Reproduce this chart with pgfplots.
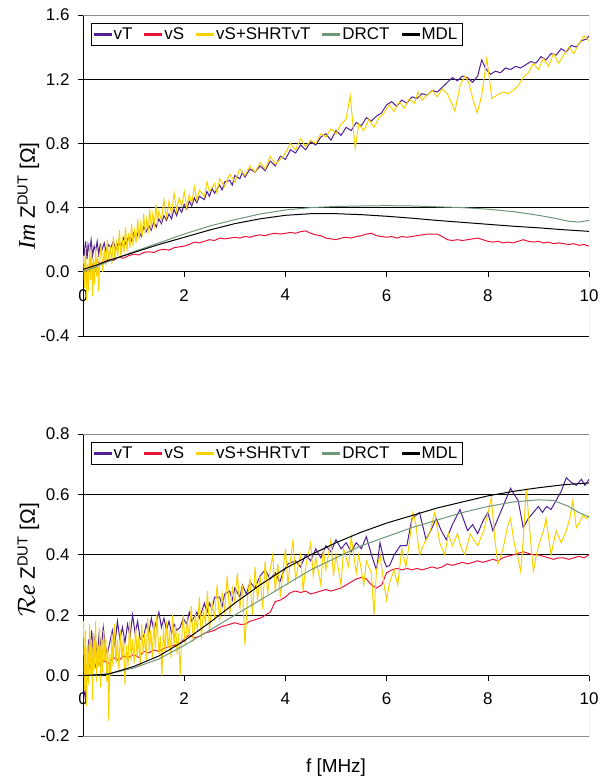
\documentclass[border=0pt]{standalone}
\usepackage{fontspec}
\setmainfont{Liberation Sans}
\newfontfamily\timesfont{Liberation Serif}
\usepackage{pgfplots}
\pgfplotsset{compat=1.18}
\definecolor{cvT}{RGB}{80,30,150}
\definecolor{cvS}{RGB}{232,20,60}
\definecolor{cvSS}{RGB}{250,210,0}
\definecolor{cDR}{RGB}{110,150,120}
\definecolor{cMD}{RGB}{0,0,0}
\definecolor{frm}{RGB}{140,140,140}
\pgfplotsset{
 myax/.style={
   scale only axis, width=506bp,
   xmin=0, xmax=10, xtick={0,2,4,6,8,10},
   axis x line*=middle, axis y line*=left,
   hide obscured x ticks=false,
   ymajorgrids, grid style={black, line width=0.6bp},
   tick align=outside, major tick length=5bp,
   tick style={black, line width=0.6bp},
   axis line style={black, line width=0.8bp},
   /pgf/number format/assume math mode=true,
   ticklabel style={font=\fontsize{17}{17}\selectfont},
   xticklabel style={yshift=-9bp},
   yticklabel style={xshift=-5bp, /pgf/number format/.cd, fixed, fixed zerofill, precision=1},
   legend columns=-1,
   legend style={at={(0,1)}, anchor=north west, xshift=8bp, yshift=-8bp, draw=black, fill=white,
     font=\fontsize{17}{17}\selectfont, inner sep=2.5bp,
     /tikz/every even column/.append style={column sep=10bp}},
   every axis plot/.append style={line width=1bp},
 }
}
\newcommand\legentries{%
\addlegendimage{legend image code/.code={\fill[cvT] (0bp,-0.7bp) rectangle (17bp,0.7bp);}}\addlegendentry{vT}
\addlegendimage{legend image code/.code={\fill[cvS] (0bp,-0.7bp) rectangle (17bp,0.7bp);}}\addlegendentry{vS}
\addlegendimage{legend image code/.code={\fill[cvSS] (0bp,-0.7bp) rectangle (17bp,0.7bp);}}\addlegendentry{vS+SHRTvT}
\addlegendimage{legend image code/.code={\fill[cDR] (0bp,-0.7bp) rectangle (17bp,0.7bp);}}\addlegendentry{DRCT}
\addlegendimage{legend image code/.code={\fill[cMD] (0bp,-0.7bp) rectangle (17bp,0.7bp);}}\addlegendentry{MDL}}
\begin{document}
\begin{tikzpicture}
\useasboundingbox (0,0) rectangle (606bp,781bp);
% ---------------- Top: Im ----------------
\begin{scope}
\begin{axis}[myax, at={(83bp,445bp)}, anchor=south west, height=321bp,
  ymin=-0.4, ymax=1.6, ytick={-0.4,0,0.4,0.8,1.2,1.6},
  ylabel style={at={([xshift=-48bp]axis description cs:0,0.268)}, anchor=base west, inner sep=0pt, font=\fontsize{21}{21}\selectfont},
  ylabel={{\timesfont\itshape\fontsize{24}{24}\selectfont Im} Z\textsuperscript{DUT} [Ω]}]
\legentries
\addplot[cvT, forget plot] coordinates {(0.02,0.10)(0.05,0.19)(0.08,0.08)(0.10,0.17)(0.13,0.12)(0.16,0.20)(0.19,0.10)(0.22,0.16)(0.25,0.13)(0.28,0.19)(0.31,0.11)(0.34,0.17)(0.38,0.14)(0.42,0.18)(0.46,0.12)(0.50,0.17)(0.55,0.15)(0.60,0.19)(0.65,0.14)(0.70,0.18)(0.75,0.16)(0.80,0.21)(0.85,0.17)(0.90,0.22)(0.95,0.19)(1.00,0.24)(1.05,0.20)(1.10,0.26)(1.15,0.22)(1.20,0.28)(1.25,0.25)(1.30,0.29)(1.35,0.26)(1.40,0.31)(1.45,0.28)(1.50,0.33)(1.55,0.30)(1.60,0.35)(1.65,0.32)(1.70,0.36)(1.75,0.33)(1.80,0.39)(1.85,0.35)(1.90,0.40)(1.95,0.37)(2.00,0.42)(2.05,0.39)(2.10,0.44)(2.15,0.41)(2.20,0.46)(2.25,0.43)(2.30,0.47)(2.40,0.45)(2.45,0.50)(2.50,0.47)(2.55,0.52)(2.60,0.49)(2.70,0.54)(2.75,0.51)(2.80,0.56)(2.90,0.57)(2.95,0.54)(3.00,0.60)(3.10,0.58)(3.15,0.62)(3.20,0.59)(3.30,0.64)(3.40,0.62)(3.50,0.66)(3.60,0.63)(3.70,0.69)(3.80,0.66)(3.90,0.72)(4.00,0.70)(4.10,0.76)(4.20,0.74)(4.30,0.79)(4.40,0.76)(4.50,0.81)(4.60,0.79)(4.70,0.84)(4.80,0.86)(4.90,0.82)(5.00,0.88)(5.10,0.85)(5.20,0.90)(5.30,0.88)(5.40,0.93)(5.50,0.91)(5.60,0.96)(5.70,0.94)(5.80,0.97)(5.90,0.99)(6.00,1.04)(6.10,1.06)(6.20,1.03)(6.30,1.07)(6.40,1.05)(6.50,1.09)(6.60,1.08)(6.70,1.11)(6.80,1.10)(6.90,1.13)(7.00,1.12)(7.10,1.15)(7.20,1.18)(7.30,1.21)(7.40,1.19)(7.50,1.22)(7.60,1.21)(7.70,1.18)(7.80,1.22)(7.88,1.32)(7.95,1.27)(8.05,1.23)(8.15,1.25)(8.25,1.24)(8.35,1.27)(8.45,1.26)(8.55,1.28)(8.65,1.27)(8.75,1.29)(8.85,1.31)(8.95,1.30)(9.05,1.34)(9.15,1.32)(9.25,1.36)(9.35,1.35)(9.45,1.39)(9.55,1.37)(9.65,1.41)(9.75,1.40)(9.85,1.44)(9.95,1.45)(10.0,1.47)};
\addplot[cvS, forget plot] coordinates {(0.05,0.00)(0.10,0.03)(0.15,0.02)(0.20,0.05)(0.25,0.04)(0.30,0.06)(0.35,0.05)(0.40,0.07)(0.45,0.06)(0.50,0.08)(0.60,0.07)(0.70,0.09)(0.80,0.085)(0.90,0.10)(1.00,0.11)(1.10,0.105)(1.20,0.12)(1.30,0.125)(1.40,0.12)(1.50,0.135)(1.60,0.14)(1.70,0.135)(1.80,0.15)(1.90,0.155)(2.00,0.16)(2.10,0.17)(2.20,0.185)(2.30,0.18)(2.40,0.19)(2.50,0.20)(2.60,0.195)(2.70,0.21)(2.80,0.205)(2.90,0.21)(3.00,0.215)(3.10,0.21)(3.20,0.22)(3.30,0.215)(3.40,0.225)(3.50,0.23)(3.60,0.225)(3.70,0.235)(3.80,0.24)(3.90,0.235)(4.00,0.24)(4.10,0.245)(4.20,0.24)(4.30,0.25)(4.40,0.255)(4.50,0.24)(4.60,0.23)(4.70,0.225)(4.80,0.21)(4.90,0.205)(5.00,0.20)(5.10,0.21)(5.20,0.215)(5.30,0.21)(5.40,0.22)(5.50,0.225)(5.60,0.235)(5.70,0.24)(5.80,0.225)(5.90,0.22)(6.00,0.215)(6.10,0.22)(6.20,0.21)(6.30,0.22)(6.40,0.215)(6.50,0.22)(6.60,0.225)(6.70,0.23)(6.80,0.235)(6.90,0.235)(7.00,0.235)(7.10,0.22)(7.20,0.20)(7.30,0.195)(7.40,0.20)(7.50,0.195)(7.60,0.20)(7.70,0.205)(7.80,0.21)(7.90,0.20)(8.00,0.19)(8.10,0.185)(8.20,0.19)(8.30,0.18)(8.40,0.185)(8.50,0.18)(8.60,0.19)(8.70,0.20)(8.80,0.19)(8.90,0.185)(9.00,0.19)(9.10,0.18)(9.20,0.185)(9.30,0.175)(9.40,0.18)(9.50,0.175)(9.60,0.17)(9.70,0.175)(9.80,0.165)(9.90,0.17)(10.0,0.16)};
\addplot[cvSS, forget plot] coordinates {(0.01,0.10)(0.03,-0.10)(0.05,0.15)(0.07,-0.18)(0.09,0.05)(0.11,-0.12)(0.13,0.18)(0.15,-0.05)(0.17,0.12)(0.19,-0.15)(0.21,0.08)(0.23,-0.08)(0.25,0.15)(0.27,-0.03)(0.29,0.10)(0.31,-0.12)(0.33,0.06)(0.36,0.18)(0.39,0.00)(0.42,0.14)(0.45,0.04)(0.48,0.20)(0.51,0.06)(0.54,0.16)(0.57,0.05)(0.60,0.22)(0.63,0.08)(0.66,0.18)(0.69,0.10)(0.72,0.26)(0.75,0.09)(0.78,0.20)(0.81,0.12)(0.84,0.28)(0.87,0.13)(0.90,0.24)(0.93,0.15)(0.96,0.30)(0.99,0.16)(1.02,0.27)(1.05,0.18)(1.08,0.33)(1.11,0.20)(1.14,0.30)(1.17,0.22)(1.20,0.36)(1.23,0.24)(1.26,0.33)(1.29,0.26)(1.32,0.39)(1.35,0.27)(1.38,0.36)(1.41,0.29)(1.44,0.42)(1.47,0.31)(1.50,0.38)(1.55,0.32)(1.60,0.45)(1.65,0.34)(1.70,0.44)(1.75,0.36)(1.80,0.49)(1.85,0.38)(1.90,0.46)(1.95,0.41)(2.00,0.50)(2.05,0.40)(2.10,0.48)(2.15,0.43)(2.20,0.53)(2.25,0.45)(2.30,0.51)(2.40,0.47)(2.45,0.56)(2.50,0.50)(2.60,0.55)(2.65,0.49)(2.70,0.58)(2.80,0.53)(2.90,0.61)(3.00,0.56)(3.10,0.64)(3.20,0.60)(3.30,0.66)(3.40,0.62)(3.50,0.68)(3.60,0.64)(3.70,0.72)(3.80,0.67)(3.90,0.70)(4.00,0.74)(4.10,0.80)(4.20,0.76)(4.30,0.83)(4.40,0.78)(4.50,0.82)(4.60,0.80)(4.70,0.86)(4.80,0.84)(4.90,0.89)(5.00,0.86)(5.10,0.92)(5.20,0.95)(5.28,1.10)(5.38,0.77)(5.45,0.92)(5.55,0.88)(5.65,0.95)(5.75,0.90)(5.85,0.96)(5.95,0.99)(6.05,1.04)(6.15,1.00)(6.25,1.06)(6.35,1.02)(6.45,1.08)(6.55,1.05)(6.62,1.12)(6.70,1.07)(6.80,1.10)(6.90,1.13)(7.00,1.09)(7.10,1.14)(7.20,1.11)(7.30,1.04)(7.35,1.00)(7.45,1.16)(7.55,1.22)(7.62,1.18)(7.72,1.06)(7.79,0.99)(7.88,1.10)(7.98,1.33)(8.08,1.08)(8.18,1.10)(8.30,1.12)(8.40,1.11)(8.50,1.13)(8.60,1.16)(8.70,1.21)(8.80,1.24)(8.90,1.30)(9.00,1.26)(9.10,1.33)(9.20,1.28)(9.30,1.36)(9.40,1.30)(9.50,1.35)(9.60,1.40)(9.70,1.36)(9.80,1.42)(9.90,1.47)(10.0,1.44)};
\addplot[cDR, forget plot] coordinates {(0.0,0.0)(0.25,0.03)(0.5,0.065)(0.75,0.095)(1.0,0.125)(1.5,0.18)(2.0,0.235)(2.5,0.285)(3.0,0.325)(3.5,0.36)(4.0,0.385)(4.5,0.40)(5.0,0.407)(5.5,0.41)(6.0,0.412)(6.5,0.41)(7.0,0.405)(7.5,0.40)(8.0,0.39)(8.5,0.375)(9.0,0.352)(9.3,0.335)(9.6,0.315)(9.8,0.31)(10.0,0.32)};
\addplot[cMD, forget plot] coordinates {(0.0,0.015)(0.25,0.04)(0.5,0.07)(0.75,0.095)(1.0,0.12)(1.5,0.17)(2.0,0.215)(2.5,0.26)(3.0,0.30)(3.5,0.33)(4.0,0.352)(4.5,0.362)(5.0,0.362)(5.5,0.356)(6.0,0.346)(6.5,0.334)(7.0,0.32)(7.5,0.308)(8.0,0.296)(8.5,0.284)(9.0,0.274)(9.5,0.262)(10.0,0.252)};
\draw[frm, line width=0.8bp] (rel axis cs:0,0) -- (rel axis cs:1,0) -- (rel axis cs:1,1) -- (rel axis cs:0,1);
\end{axis}
\end{scope}
% ---------------- Bottom: Re ----------------
\begin{scope}
\begin{axis}[myax, at={(83bp,45bp)}, anchor=south west, height=302bp,
  ymin=-0.2, ymax=0.8, ytick={-0.2,0,0.2,0.4,0.6,0.8},
  ylabel style={at={([xshift=-48bp]axis description cs:0,0.394)}, anchor=base west, inner sep=0pt, font=\fontsize{21}{21}\selectfont},
  ylabel={{\fontsize{24}{24}\selectfont$\mathcal{R}${\timesfont\itshape e}} Z\textsuperscript{DUT} [Ω]}]
\legentries
\addplot[cvT, forget plot] coordinates {(0.02,-0.05)(0.05,-0.08)(0.08,0.02)(0.11,0.12)(0.14,0.05)(0.17,0.15)(0.20,0.08)(0.24,0.13)(0.28,0.06)(0.32,0.14)(0.36,0.09)(0.40,0.16)(0.44,0.10)(0.48,0.07)(0.53,0.11)(0.58,0.15)(0.63,0.10)(0.68,0.18)(0.73,0.12)(0.78,0.16)(0.83,0.11)(0.88,0.17)(0.93,0.13)(0.98,0.20)(1.03,0.14)(1.08,0.18)(1.13,0.12)(1.20,0.13)(1.25,0.17)(1.30,0.14)(1.35,0.19)(1.40,0.15)(1.45,0.18)(1.50,0.21)(1.55,0.16)(1.60,0.19)(1.65,0.15)(1.70,0.18)(1.75,0.14)(1.80,0.17)(1.85,0.15)(1.92,0.16)(1.98,0.19)(2.05,0.17)(2.10,0.21)(2.15,0.18)(2.25,0.21)(2.30,0.19)(2.40,0.24)(2.45,0.21)(2.50,0.24)(2.55,0.22)(2.60,0.26)(2.70,0.26)(2.75,0.23)(2.80,0.27)(2.90,0.28)(2.95,0.25)(3.00,0.29)(3.10,0.26)(3.15,0.30)(3.23,0.27)(3.30,0.31)(3.40,0.29)(3.50,0.33)(3.60,0.35)(3.70,0.32)(3.80,0.34)(3.89,0.31)(3.95,0.34)(4.05,0.37)(4.20,0.38)(4.30,0.36)(4.40,0.40)(4.50,0.38)(4.60,0.42)(4.70,0.39)(4.80,0.43)(4.90,0.41)(5.00,0.45)(5.10,0.42)(5.20,0.44)(5.30,0.41)(5.40,0.44)(5.50,0.42)(5.60,0.46)(5.70,0.40)(5.80,0.35)(5.87,0.44)(5.95,0.38)(6.00,0.36)(6.06,0.365)(6.15,0.40)(6.27,0.43)(6.40,0.43)(6.50,0.52)(6.65,0.54)(6.78,0.45)(6.90,0.49)(6.98,0.52)(7.08,0.48)(7.18,0.45)(7.30,0.50)(7.45,0.55)(7.60,0.48)(7.70,0.50)(7.80,0.47)(7.90,0.51)(8.00,0.54)(8.10,0.48)(8.20,0.52)(8.30,0.56)(8.45,0.62)(8.52,0.60)(8.60,0.58)(8.70,0.49)(8.80,0.52)(8.90,0.54)(9.00,0.56)(9.08,0.54)(9.16,0.56)(9.25,0.55)(9.35,0.58)(9.45,0.61)(9.55,0.655)(9.65,0.64)(9.75,0.63)(9.85,0.65)(9.92,0.63)(10.0,0.65)};
\addplot[cvS, forget plot] coordinates {(0.05,0.00)(0.10,0.05)(0.15,0.02)(0.20,0.06)(0.25,0.03)(0.30,0.05)(0.35,0.03)(0.40,0.05)(0.50,0.04)(0.60,0.06)(0.70,0.05)(0.80,0.065)(0.90,0.06)(1.00,0.07)(1.10,0.06)(1.20,0.08)(1.30,0.075)(1.40,0.085)(1.50,0.08)(1.60,0.09)(1.70,0.095)(1.80,0.10)(1.90,0.105)(2.00,0.12)(2.10,0.135)(2.20,0.125)(2.30,0.13)(2.40,0.14)(2.50,0.145)(2.60,0.15)(2.70,0.16)(2.80,0.165)(2.90,0.17)(3.00,0.175)(3.10,0.17)(3.20,0.17)(3.30,0.18)(3.40,0.185)(3.50,0.19)(3.60,0.20)(3.70,0.21)(3.80,0.245)(3.90,0.25)(4.00,0.26)(4.10,0.275)(4.20,0.28)(4.30,0.275)(4.40,0.28)(4.50,0.27)(4.60,0.275)(4.70,0.28)(4.80,0.285)(4.90,0.28)(5.00,0.285)(5.10,0.29)(5.20,0.30)(5.30,0.31)(5.40,0.32)(5.50,0.325)(5.60,0.32)(5.70,0.30)(5.80,0.29)(5.90,0.30)(6.00,0.34)(6.10,0.35)(6.20,0.355)(6.30,0.35)(6.40,0.355)(6.50,0.35)(6.60,0.355)(6.70,0.35)(6.80,0.355)(6.90,0.36)(7.00,0.355)(7.10,0.36)(7.20,0.37)(7.30,0.365)(7.40,0.37)(7.50,0.375)(7.60,0.37)(7.70,0.375)(7.80,0.38)(7.90,0.375)(8.00,0.38)(8.10,0.385)(8.20,0.38)(8.30,0.39)(8.40,0.395)(8.50,0.40)(8.60,0.405)(8.70,0.41)(8.80,0.405)(8.90,0.40)(9.00,0.40)(9.10,0.395)(9.20,0.39)(9.30,0.385)(9.40,0.39)(9.50,0.39)(9.60,0.385)(9.70,0.39)(9.80,0.395)(9.90,0.39)(10.0,0.40)};
\addplot[cvSS, forget plot] coordinates {(0.01,0.18)(0.03,-0.05)(0.05,0.15)(0.07,-0.10)(0.09,0.10)(0.11,-0.03)(0.13,0.17)(0.15,0.00)(0.17,0.12)(0.19,-0.08)(0.21,0.14)(0.23,0.02)(0.25,0.18)(0.27,-0.02)(0.29,0.10)(0.31,0.03)(0.33,0.16)(0.35,-0.04)(0.37,0.12)(0.39,0.01)(0.41,0.15)(0.43,0.05)(0.45,0.12)(0.47,-0.02)(0.49,0.09)(0.51,-0.15)(0.53,0.07)(0.55,0.00)(0.57,0.14)(0.59,0.03)(0.62,0.17)(0.65,0.04)(0.68,0.12)(0.71,0.02)(0.74,0.15)(0.77,0.05)(0.80,0.13)(0.83,-0.03)(0.86,0.10)(0.89,0.03)(0.92,0.18)(0.95,0.05)(0.98,0.12)(1.01,0.04)(1.04,0.16)(1.07,0.06)(1.10,0.13)(1.13,0.03)(1.16,0.17)(1.19,0.07)(1.22,0.14)(1.25,0.05)(1.28,0.19)(1.31,0.08)(1.34,0.15)(1.37,0.06)(1.40,0.18)(1.43,0.09)(1.46,0.20)(1.50,0.07)(1.53,0.13)(1.56,0.00)(1.59,0.16)(1.62,0.08)(1.65,0.18)(1.68,0.09)(1.71,0.15)(1.74,0.06)(1.77,0.20)(1.80,0.10)(1.83,0.17)(1.86,0.07)(1.89,0.14)(1.92,0.00)(1.95,0.12)(1.98,0.20)(2.02,0.10)(2.06,0.18)(2.10,0.13)(2.14,0.23)(2.18,0.11)(2.22,0.20)(2.26,0.15)(2.30,0.26)(2.34,0.12)(2.38,0.22)(2.42,0.17)(2.46,0.28)(2.50,0.15)(2.55,0.24)(2.60,0.19)(2.65,0.30)(2.70,0.18)(2.75,0.27)(2.80,0.21)(2.85,0.33)(2.90,0.20)(2.95,0.29)(3.00,0.24)(3.05,0.34)(3.10,0.22)(3.15,0.30)(3.20,0.10)(3.25,0.26)(3.30,0.32)(3.35,0.20)(3.40,0.36)(3.45,0.25)(3.50,0.33)(3.55,0.22)(3.60,0.38)(3.65,0.27)(3.70,0.35)(3.75,0.40)(3.80,0.28)(3.85,0.37)(3.90,0.26)(3.95,0.34)(4.00,0.42)(4.05,0.30)(4.10,0.38)(4.15,0.45)(4.20,0.32)(4.30,0.40)(4.35,0.28)(4.40,0.36)(4.50,0.44)(4.55,0.33)(4.60,0.39)(4.70,0.30)(4.75,0.42)(4.80,0.35)(4.90,0.45)(4.95,0.33)(5.00,0.40)(5.10,0.30)(5.15,0.42)(5.25,0.36)(5.30,0.46)(5.40,0.34)(5.45,0.40)(5.55,0.30)(5.60,0.38)(5.70,0.34)(5.75,0.20)(5.80,0.35)(5.87,0.40)(5.95,0.30)(6.00,0.25)(6.06,0.31)(6.15,0.35)(6.22,0.30)(6.30,0.42)(6.38,0.36)(6.45,0.44)(6.52,0.54)(6.58,0.50)(6.65,0.40)(6.75,0.44)(6.85,0.47)(6.95,0.54)(7.05,0.44)(7.15,0.40)(7.22,0.47)(7.30,0.43)(7.40,0.47)(7.48,0.42)(7.55,0.40)(7.65,0.47)(7.72,0.45)(7.80,0.43)(7.92,0.48)(8.02,0.55)(8.07,0.59)(8.14,0.45)(8.20,0.37)(8.30,0.42)(8.40,0.50)(8.45,0.52)(8.52,0.44)(8.58,0.40)(8.65,0.345)(8.70,0.45)(8.76,0.62)(8.82,0.50)(8.90,0.345)(8.96,0.40)(9.02,0.44)(9.10,0.48)(9.15,0.52)(9.20,0.46)(9.25,0.40)(9.30,0.44)(9.35,0.48)(9.45,0.44)(9.55,0.48)(9.62,0.52)(9.68,0.58)(9.75,0.49)(9.82,0.51)(9.88,0.53)(9.95,0.52)(10.0,0.53)};
\addplot[cDR, forget plot] coordinates {(0,0.0)(0.5,0.005)(1.0,0.025)(1.5,0.055)(2.0,0.10)(2.5,0.15)(3.0,0.20)(3.5,0.25)(4.0,0.30)(4.5,0.35)(5.0,0.39)(5.5,0.43)(6.0,0.46)(6.5,0.49)(7.0,0.515)(7.5,0.54)(8.0,0.56)(8.5,0.575)(9.0,0.582)(9.3,0.58)(9.6,0.56)(9.8,0.54)(10.0,0.525)};
\addplot[cMD, forget plot] coordinates {(0,0.0)(0.5,0.005)(1.0,0.03)(1.5,0.065)(2.0,0.115)(2.5,0.175)(3.0,0.24)(3.5,0.30)(4.0,0.355)(4.5,0.40)(5.0,0.44)(5.5,0.475)(6.0,0.505)(6.5,0.53)(7.0,0.555)(7.5,0.575)(8.0,0.595)(8.5,0.61)(9.0,0.622)(9.5,0.632)(10.0,0.638)};
\draw[frm, line width=0.8bp] (rel axis cs:0,0) -- (rel axis cs:1,0) -- (rel axis cs:1,1) -- (rel axis cs:0,1);
\end{axis}
\end{scope}
\node[font=\fontsize{19}{19}\selectfont] at (336bp,13bp) {f [MHz]};
\end{tikzpicture}
\end{document}
